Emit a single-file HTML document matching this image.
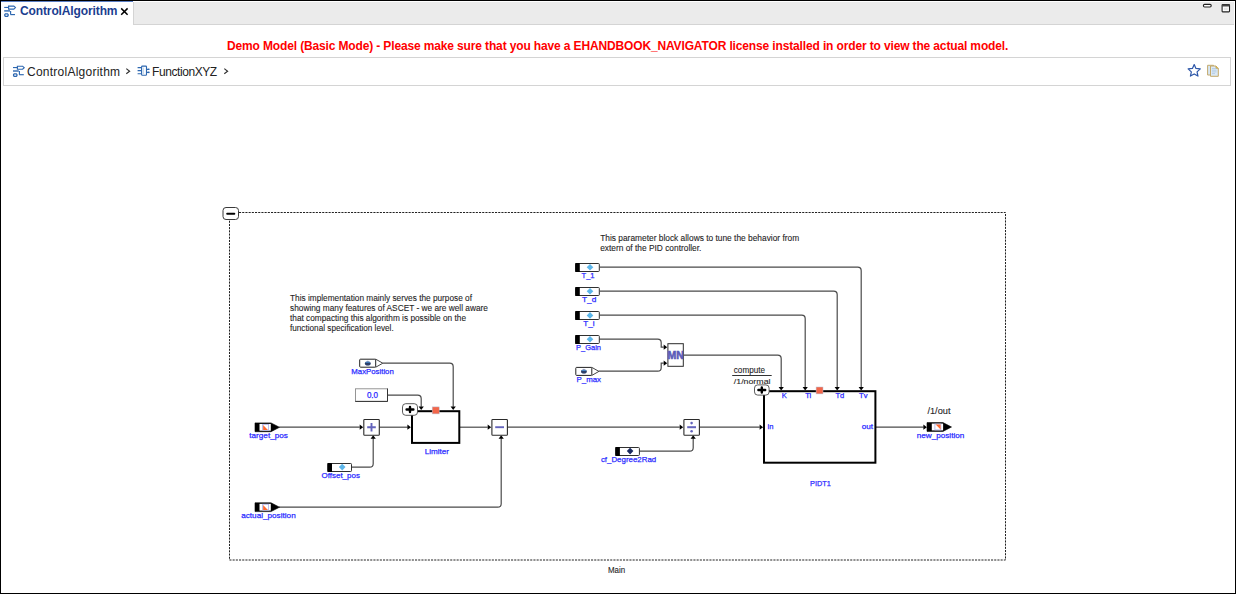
<!DOCTYPE html>
<html><head><meta charset="utf-8">
<style>
html,body{margin:0;padding:0;width:1236px;height:594px;overflow:hidden;background:#fff;font-family:"Liberation Sans",sans-serif;}
#frame{position:absolute;left:0;top:0;width:1234px;height:592px;border:1px solid #000;background:#fff;}
.abs{position:absolute;white-space:nowrap;}
#tabbar{position:absolute;left:133px;top:2px;width:1100px;height:22px;background:#ebebeb;border-left:1px solid #d4d4d4;border-bottom:1px solid #d4d4d4;}
#tabline{position:absolute;left:1px;top:1px;width:132px;height:1px;background:#5a7ec4;}
#tabtext{left:20px;top:2px;font-size:12px;font-weight:bold;color:#1b3d8f;line-height:18px;letter-spacing:-0.12px;}
#redtext{left:227px;top:38px;font-size:12px;font-weight:bold;color:#ff0000;line-height:16px;letter-spacing:-0.14px;}
#crumb{position:absolute;left:3px;top:57px;width:1226px;height:27px;border:1px solid #d4d4d4;background:#fff;}
.crumbtxt{font-size:12px;color:#222;line-height:16px;}
svg{position:absolute;left:0;top:0;}
svg text{font-family:"Liberation Sans",sans-serif;}
</style></head>
<body>
<div id="frame"></div>
<div id="tabbar"></div>
<div id="tabline"></div>
<div class="abs" id="tabtext">ControlAlgorithm</div>
<div class="abs" id="redtext">Demo Model (Basic Mode) - Please make sure that you have a EHANDBOOK_NAVIGATOR license installed in order to view the actual model.</div>
<div id="crumb"></div>
<div class="abs crumbtxt" style="left:27px;top:64px;letter-spacing:0.25px;">ControlAlgorithm</div>
<div class="abs crumbtxt" style="left:152px;top:64px;letter-spacing:-0.42px;">FunctionXYZ</div>
<svg width="1236" height="594" viewBox="0 0 1236 594">
<path d="M239,212.5 H1005.5 V560 H229.5 V220" fill="none" stroke="#222" stroke-width="1" stroke-dasharray="2.1 1.1"/>
<rect x="223" y="207.5" width="15.5" height="12" rx="3" ry="3" fill="#fff" stroke="#3a3a3a" stroke-width="1"/>
<path d="M227.2,213.7 H234.3" stroke="#000" stroke-width="2" stroke-linecap="round"/>
<text x="608" y="572.8" font-size="8.8" fill="#1e1e1e" stroke="#1e1e1e" stroke-width="0.1" textLength="17.2" lengthAdjust="spacingAndGlyphs">Main</text>
<text x="290" y="300.7" font-size="8.3" fill="#1e1e1e" stroke="#1e1e1e" stroke-width="0.1" textLength="182" lengthAdjust="spacingAndGlyphs">This implementation mainly serves the purpose of</text>
<text x="290" y="310.9" font-size="8.3" fill="#1e1e1e" stroke="#1e1e1e" stroke-width="0.1" textLength="198" lengthAdjust="spacingAndGlyphs">showing many features of ASCET - we are well aware</text>
<text x="290" y="321.09999999999997" font-size="8.3" fill="#1e1e1e" stroke="#1e1e1e" stroke-width="0.1" textLength="176" lengthAdjust="spacingAndGlyphs">that compacting this algorithm is possible on the</text>
<text x="290" y="331.3" font-size="8.3" fill="#1e1e1e" stroke="#1e1e1e" stroke-width="0.1" textLength="103.7" lengthAdjust="spacingAndGlyphs">functional specification level.</text>
<text x="600.2" y="240.5" font-size="8.3" fill="#1e1e1e" stroke="#1e1e1e" stroke-width="0.1" textLength="199" lengthAdjust="spacingAndGlyphs">This parameter block allows to tune the behavior from</text>
<text x="600.2" y="251.0" font-size="8.3" fill="#1e1e1e" stroke="#1e1e1e" stroke-width="0.1" textLength="101.2" lengthAdjust="spacingAndGlyphs">extern of the PID controller.</text>
<g transform="translate(-0.3,-0.3)">
<path d="M279.5,427.5 H360" fill="none" stroke="#4a4a4a" stroke-width="1.2"/>
<path d="M360.0,424.9 L363.5,427.5 L360.0,430.1 Z" fill="#000"/>
<path d="M351.6,467.5 H370.0 Q373.5,467.5 373.5,464.0 V438.5" fill="none" stroke="#4a4a4a" stroke-width="1.2"/>
<path d="M370.9,439.0 L373.5,435.5 L376.1,439.0 Z" fill="#000"/>
<path d="M379.5,427.5 H408" fill="none" stroke="#4a4a4a" stroke-width="1.2"/>
<path d="M407.7,424.9 L411.2,427.5 L407.7,430.1 Z" fill="#000"/>
<path d="M387.7,395.5 H418.0 Q421.5,395.5 421.5,399.0 V407" fill="none" stroke="#4a4a4a" stroke-width="1.2"/>
<path d="M418.9,406.7 L421.5,410.2 L424.1,406.7 Z" fill="#000"/>
<path d="M383,363.5 H450.0 Q453.5,363.5 453.5,367.0 V407" fill="none" stroke="#4a4a4a" stroke-width="1.2"/>
<path d="M450.9,406.7 L453.5,410.2 L456.1,406.7 Z" fill="#000"/>
<path d="M460,427.5 H488" fill="none" stroke="#4a4a4a" stroke-width="1.2"/>
<path d="M488.0,424.9 L491.5,427.5 L488.0,430.1 Z" fill="#000"/>
<path d="M279.2,507.5 H498.0 Q501.5,507.5 501.5,504.0 V438.5" fill="none" stroke="#4a4a4a" stroke-width="1.2"/>
<path d="M498.9,439.0 L501.5,435.5 L504.1,439.0 Z" fill="#000"/>
<path d="M507.5,427.5 H680" fill="none" stroke="#4a4a4a" stroke-width="1.2"/>
<path d="M680.0,424.9 L683.5,427.5 L680.0,430.1 Z" fill="#000"/>
<path d="M639.5,451.5 H690.0 Q693.5,451.5 693.5,448.0 V438.5" fill="none" stroke="#4a4a4a" stroke-width="1.2"/>
<path d="M690.9,439.0 L693.5,435.5 L696.1,439.0 Z" fill="#000"/>
<path d="M699.8,427.5 H760" fill="none" stroke="#4a4a4a" stroke-width="1.2"/>
<path d="M759.9,424.9 L763.4,427.5 L759.9,430.1 Z" fill="#000"/>
<path d="M876,427.5 H924" fill="none" stroke="#4a4a4a" stroke-width="1.2"/>
<path d="M923.7,424.9 L927.2,427.5 L923.7,430.1 Z" fill="#000"/>
<path d="M600,267.5 H858.0 Q861.5,267.5 861.5,271.0 V387.5" fill="none" stroke="#4a4a4a" stroke-width="1.2"/>
<path d="M858.9,387.3 L861.5,390.8 L864.1,387.3 Z" fill="#000"/>
<path d="M600,291.5 H834.0 Q837.5,291.5 837.5,295.0 V387.5" fill="none" stroke="#4a4a4a" stroke-width="1.2"/>
<path d="M834.9,387.3 L837.5,390.8 L840.1,387.3 Z" fill="#000"/>
<path d="M600,315.5 H802.0 Q805.5,315.5 805.5,319.0 V387.5" fill="none" stroke="#4a4a4a" stroke-width="1.2"/>
<path d="M802.9,387.3 L805.5,390.8 L808.1,387.3 Z" fill="#000"/>
<path d="M599.5,339.5 H658.0 Q661.5,339.5 661.5,343.0 V347.5 H664" fill="none" stroke="#4a4a4a" stroke-width="1.2"/>
<path d="M664.0,344.9 L667.5,347.5 L664.0,350.1 Z" fill="#000"/>
<path d="M599,371.5 H658.0 Q661.5,371.5 661.5,368.0 V363.5 H664" fill="none" stroke="#4a4a4a" stroke-width="1.2"/>
<path d="M664.0,360.9 L667.5,363.5 L664.0,366.1 Z" fill="#000"/>
<path d="M683.7,355.5 H778.0 Q781.5,355.5 781.5,359.0 V387.5" fill="none" stroke="#4a4a4a" stroke-width="1.2"/>
<path d="M778.9,387.3 L781.5,390.8 L784.1,387.3 Z" fill="#000"/>
</g>
<path d="M255,422.90000000000003 H271 L279.5,427.3 L271,431.7 H255 Z" fill="#000" stroke="#000" stroke-width="0.6" stroke-linejoin="round"/>
<rect x="259.5" y="423.90000000000003" width="11.3" height="6.7999999999999545" fill="#fff"/>
<rect x="262.6" y="424.40000000000003" width="6" height="5.7999999999999545" fill="#fff" stroke="#aab0e6" stroke-width="0.8"/>
<path d="M263.1,425.1 L263.1,430.09999999999997 L267.90000000000003,430.09999999999997 Z" fill="#ff6a33"/>
<path d="M255,502.8 H271 L279.5,507.2 L271,511.59999999999997 H255 Z" fill="#000" stroke="#000" stroke-width="0.6" stroke-linejoin="round"/>
<rect x="259.5" y="503.8" width="11.3" height="6.7999999999999545" fill="#fff"/>
<rect x="262.6" y="504.3" width="6" height="5.7999999999999545" fill="#fff" stroke="#aab0e6" stroke-width="0.8"/>
<path d="M263.1,505.0 L263.1,509.99999999999994 L267.90000000000003,509.99999999999994 Z" fill="#ff6a33"/>
<path d="M927,422.6 H943 L951.5,427.0 L943,431.4 H927 Z" fill="#000" stroke="#000" stroke-width="0.6" stroke-linejoin="round"/>
<rect x="931.8" y="423.6" width="11.3" height="6.7999999999999545" fill="#fff"/>
<rect x="934.9" y="424.1" width="6" height="5.7999999999999545" fill="#fff" stroke="#aab0e6" stroke-width="0.8"/>
<path d="M935.6,424.6 L940.6,424.6 L940.6,429.59999999999997 Z" fill="#ff6a33"/>
<rect x="327.9" y="463.5" width="23.6" height="8" rx="0.8" fill="#fff" stroke="#303030" stroke-width="1"/>
<rect x="327.4" y="463" width="4.6" height="9" rx="0.6" fill="#000"/>
<path d="M338.9,467.1 L342.2,463.8 L345.5,467.1 L342.2,470.40000000000003 Z" fill="#5cb6ea"/>
<rect x="615.8" y="447.5" width="23.6" height="8" rx="0.8" fill="#fff" stroke="#303030" stroke-width="1"/>
<rect x="615.3" y="447" width="4.6" height="9" rx="0.6" fill="#000"/>
<path d="M626.8,451.1 L630.0999999999999,447.8 L633.3999999999999,451.1 L630.0999999999999,454.40000000000003 Z" fill="#1b2a60"/>
<rect x="575.7" y="263.5" width="23.6" height="8" rx="0.8" fill="#fff" stroke="#303030" stroke-width="1"/>
<rect x="575.2" y="263" width="4.6" height="9" rx="0.6" fill="#000"/>
<path d="M586.7,267.3 L590.0,264.0 L593.3,267.3 L590.0,270.6 Z" fill="#5cb6ea"/>
<rect x="575.7" y="287.5" width="23.6" height="8" rx="0.8" fill="#fff" stroke="#303030" stroke-width="1"/>
<rect x="575.2" y="287" width="4.6" height="9" rx="0.6" fill="#000"/>
<path d="M586.7,291.3 L590.0,288.0 L593.3,291.3 L590.0,294.6 Z" fill="#5cb6ea"/>
<rect x="575.7" y="311.5" width="23.6" height="8" rx="0.8" fill="#fff" stroke="#303030" stroke-width="1"/>
<rect x="575.2" y="311" width="4.6" height="9" rx="0.6" fill="#000"/>
<path d="M586.7,315.4 L590.0,312.09999999999997 L593.3,315.4 L590.0,318.7 Z" fill="#5cb6ea"/>
<rect x="575.7" y="335.5" width="23.6" height="8" rx="0.8" fill="#fff" stroke="#303030" stroke-width="1"/>
<rect x="575.2" y="335" width="4.6" height="9" rx="0.6" fill="#000"/>
<path d="M586.7,339.3 L590.0,336.0 L593.3,339.3 L590.0,342.6 Z" fill="#5cb6ea"/>
<path d="M375.59999999999997,359.09999999999997 L382.8,363.2 L375.59999999999997,367.3" fill="#fff" stroke="#303030" stroke-width="0.9" stroke-linejoin="round"/>
<rect x="359.7" y="359.2" width="16" height="8.000000000000046" rx="0.8" fill="#fff" stroke="#222" stroke-width="1"/>
<path d="M364.6,363.2 L367.8,360.0 L371.0,363.2 L367.8,366.4 Z" fill="#b9c6f0" opacity="0.6"/>
<ellipse cx="367.8" cy="363.4" rx="2.9" ry="2" fill="#2c3f6a"/>
<path d="M365.6,362.3 H370.0" stroke="#4a8fd0" stroke-width="0.9"/>
<path d="M591.6999999999999,367.29999999999995 L598.9,371.4 L591.6999999999999,375.5" fill="#fff" stroke="#303030" stroke-width="0.9" stroke-linejoin="round"/>
<rect x="575.8" y="367.4" width="16" height="8.000000000000046" rx="0.8" fill="#fff" stroke="#222" stroke-width="1"/>
<path d="M580.6999999999999,371.4 L583.9,368.2 L587.1,371.4 L583.9,374.59999999999997 Z" fill="#b9c6f0" opacity="0.6"/>
<ellipse cx="583.9" cy="371.59999999999997" rx="2.9" ry="2" fill="#2c3f6a"/>
<path d="M581.6999999999999,370.5 H586.1" stroke="#4a8fd0" stroke-width="0.9"/>
<rect x="355.5" y="388.8" width="32" height="12.6" fill="#fff" stroke="#8a8a8a" stroke-width="0.9"/>
<path d="M387.5,388.6 V401.4 H355.3" fill="none" stroke="#333" stroke-width="1"/>
<text x="372.5" y="397.8" font-size="8.4" fill="#2b2bff" stroke="#2b2bff" stroke-width="0.25" textLength="11.2" lengthAdjust="spacingAndGlyphs" text-anchor="middle">0.0</text>
<rect x="363.8" y="419.5" width="15.5" height="15.8" rx="0.8" fill="#fff" stroke="#2a2a2a" stroke-width="1.1"/>
<path d="M367.2,427.2 H375.8 M371.5,422.9 V431.5" stroke="#6464bc" stroke-width="1.9"/>
<rect x="491.9" y="419.5" width="15.5" height="15.8" rx="0.8" fill="#fff" stroke="#2a2a2a" stroke-width="1.1"/>
<path d="M495.2,427.2 H503.99999999999994" stroke="#6464bc" stroke-width="1.9"/>
<rect x="683.9" y="419.5" width="15.5" height="15.8" rx="0.8" fill="#fff" stroke="#2a2a2a" stroke-width="1.1"/>
<path d="M687.2,427.2 H696.0" stroke="#6464bc" stroke-width="2"/>
<circle cx="691.6" cy="423.09999999999997" r="1.3" fill="#6464bc"/><circle cx="691.6" cy="431.3" r="1.3" fill="#6464bc"/>
<rect x="667.9" y="343.7" width="15.4" height="22.6" fill="#fff" stroke="#2a2a2a" stroke-width="1"/>
<text x="675.6" y="358.8" font-size="11.2" fill="#5a5ab8" stroke="#5a5ab8" stroke-width="0.6" textLength="16.4" lengthAdjust="spacingAndGlyphs" text-anchor="middle" font-weight="bold">MN</text>
<rect x="412" y="411.2" width="47.3" height="31.7" fill="#fff" stroke="#000" stroke-width="2"/>
<rect x="402.5" y="403.7" width="15" height="11.6" rx="3.2" fill="#fff" stroke="#4a4a4a" stroke-width="0.9"/>
<path d="M406.6,409.5 H413.4 M410.0,406.9 V412.1" stroke="#000" stroke-width="2.4" stroke-linecap="round"/>
<rect x="432.2" y="406.9" width="7" height="7" fill="#f2664a" stroke="#b9c3d6" stroke-width="0.5"/>
<rect x="764" y="391.2" width="111.4" height="71.5" fill="#fff" stroke="#000" stroke-width="2"/>
<rect x="754.5" y="384.9" width="14.6" height="10.2" rx="3.2" fill="#fff" stroke="#4a4a4a" stroke-width="0.9"/>
<path d="M758.4,390.0 H765.1999999999999 M761.8,387.4 V392.6" stroke="#000" stroke-width="2.4" stroke-linecap="round"/>
<rect x="816.1" y="387" width="6.9" height="6.9" fill="#f2664a" stroke="#b9c3d6" stroke-width="0.5"/>
<text x="249.3" y="438" font-size="8" fill="#2b2bff" stroke="#2b2bff" stroke-width="0.25" textLength="38.6" lengthAdjust="spacingAndGlyphs">target_pos</text>
<text x="241.2" y="517.7" font-size="8" fill="#2b2bff" stroke="#2b2bff" stroke-width="0.25" textLength="54.5" lengthAdjust="spacingAndGlyphs">actual_position</text>
<text x="321.5" y="478" font-size="8" fill="#2b2bff" stroke="#2b2bff" stroke-width="0.25" textLength="38.4" lengthAdjust="spacingAndGlyphs">Offset_pos</text>
<text x="351.3" y="374" font-size="8" fill="#2b2bff" stroke="#2b2bff" stroke-width="0.25" textLength="42.5" lengthAdjust="spacingAndGlyphs">MaxPosition</text>
<text x="424.7" y="453.8" font-size="8" fill="#2b2bff" stroke="#2b2bff" stroke-width="0.25" textLength="24.3" lengthAdjust="spacingAndGlyphs">Limiter</text>
<text x="600.9" y="462" font-size="8" fill="#2b2bff" stroke="#2b2bff" stroke-width="0.25" textLength="55.3" lengthAdjust="spacingAndGlyphs">cf_Degree2Rad</text>
<text x="810.1" y="485.9" font-size="8" fill="#2b2bff" stroke="#2b2bff" stroke-width="0.25" textLength="20.8" lengthAdjust="spacingAndGlyphs">PIDT1</text>
<text x="916.8" y="437.6" font-size="8" fill="#2b2bff" stroke="#2b2bff" stroke-width="0.25" textLength="47.5" lengthAdjust="spacingAndGlyphs">new_position</text>
<text x="581.5" y="278" font-size="7.6" fill="#2b2bff" stroke="#2b2bff" stroke-width="0.25" textLength="13.1" lengthAdjust="spacingAndGlyphs">T_1</text>
<text x="582.1" y="302" font-size="7.6" fill="#2b2bff" stroke="#2b2bff" stroke-width="0.25" textLength="14.2" lengthAdjust="spacingAndGlyphs">T_d</text>
<text x="583.3" y="326" font-size="7.6" fill="#2b2bff" stroke="#2b2bff" stroke-width="0.25" textLength="11.3" lengthAdjust="spacingAndGlyphs">T_i</text>
<text x="576.1" y="349.9" font-size="8" fill="#2b2bff" stroke="#2b2bff" stroke-width="0.25" textLength="24.9" lengthAdjust="spacingAndGlyphs">P_Gain</text>
<text x="576.5" y="381.6" font-size="8" fill="#2b2bff" stroke="#2b2bff" stroke-width="0.25" textLength="24.5" lengthAdjust="spacingAndGlyphs">P_max</text>
<text x="781.8" y="397.9" font-size="7.6" fill="#2b2bff" stroke="#2b2bff" stroke-width="0.25">K</text>
<text x="805.2" y="397.6" font-size="7.6" fill="#2b2bff" stroke="#2b2bff" stroke-width="0.25">Ti</text>
<text x="835.4" y="397.6" font-size="7.6" fill="#2b2bff" stroke="#2b2bff" stroke-width="0.25">Td</text>
<text x="859.1" y="397.6" font-size="7.6" fill="#2b2bff" stroke="#2b2bff" stroke-width="0.25">Tv</text>
<text x="767.6" y="428.6" font-size="7.6" fill="#2b2bff" stroke="#2b2bff" stroke-width="0.25">in</text>
<text x="861.7" y="428.6" font-size="7.6" fill="#2b2bff" stroke="#2b2bff" stroke-width="0.25" textLength="11.4" lengthAdjust="spacingAndGlyphs">out</text>
<text x="733.8" y="373.0" font-size="8.2" fill="#1e1e1e" stroke="#1e1e1e" stroke-width="0.1" textLength="31.2" lengthAdjust="spacingAndGlyphs">compute</text>
<path d="M732.2,375.5 H771.7" stroke="#333" stroke-width="1"/>
<text x="733.8" y="383.6" font-size="8" fill="#1e1e1e" stroke="#1e1e1e" stroke-width="0.1" textLength="36.7" lengthAdjust="spacingAndGlyphs">/1/normal</text>
<text x="927.4" y="414.3" font-size="8.4" fill="#1e1e1e" stroke="#1e1e1e" stroke-width="0.1" textLength="23.1" lengthAdjust="spacingAndGlyphs">/1/out</text>
<g transform="translate(4,5)" fill="none" stroke="#2d67b0" stroke-width="1.15"><path d="M0.2,2.45 H4.2"/><path d="M4.6,1.1 H9.8 L11.4,2.6 L9.8,4.1 H4.6 Z" fill="#fff"/><path d="M0.2,5.9 H6" stroke-width="1.4"/><path d="M6.6,5.9 V9.6"/><path d="M6.4,9.6 H11"/><path d="M1.4,8.8 H3.5 L4.1,9.4 V10.7 L3.5,11.3 H1.4 L0.8,10.7 V9.4 Z" stroke-width="1.3" fill="#fff"/></g>
<g transform="translate(12.8,65.1)" fill="none" stroke="#2d67b0" stroke-width="1.15"><path d="M0.2,2.45 H4.2"/><path d="M4.6,1.1 H9.8 L11.4,2.6 L9.8,4.1 H4.6 Z" fill="#fff"/><path d="M0.2,5.9 H6" stroke-width="1.4"/><path d="M6.6,5.9 V9.6"/><path d="M6.4,9.6 H11"/><path d="M1.4,8.8 H3.5 L4.1,9.4 V10.7 L3.5,11.3 H1.4 L0.8,10.7 V9.4 Z" stroke-width="1.3" fill="#fff"/></g>
<g fill="none" stroke="#2d67b0" stroke-width="1.15"><rect x="141.6" y="66.1" width="4.9" height="9.2" rx="0.8" fill="#fff"/><path d="M143.5,67.5 V74" stroke="#c6d9ee" stroke-width="1.2"/><path d="M137.6,67.6 H141 M137.6,70.6 H141 M137.6,73.7 H141"/><path d="M147,69.3 H149 M147,72.4 H149"/></g>
<circle cx="148.9" cy="69.3" r="0.8" fill="#2d67b0"/><circle cx="148.9" cy="72.4" r="0.8" fill="#2d67b0"/>
<path d="M126.3,68.6 L129.6,71.2 L126.3,73.8 M224.3,68.6 L227.6,71.2 L224.3,73.8" fill="none" stroke="#333" stroke-width="1.2"/>
<path d="M121.2,8.4 L127.6,14.8 M127.6,8.4 L121.2,14.8" stroke="#000" stroke-width="1.5"/>
<rect x="1203.4" y="4.4" width="7.8" height="2.6" rx="1.2" fill="#fff" stroke="#222" stroke-width="1.1"/>
<rect x="1222.1" y="4.6" width="7.4" height="7.3" rx="0.6" fill="#fff" stroke="#222" stroke-width="1.1"/>
<rect x="1222" y="4.5" width="7.6" height="2" fill="#444"/>
<rect x="1223.8" y="7.6" width="4" height="2.6" fill="#e6e6e6"/>
<path d="M1194.20,64.50 L1195.96,68.47 L1200.29,68.92 L1197.05,71.83 L1197.96,76.08 L1194.20,73.90 L1190.44,76.08 L1191.35,71.83 L1188.11,68.92 L1192.44,68.47 Z" fill="#fff" stroke="#2c56a8" stroke-width="1.2" stroke-linejoin="round"/>
<path d="M1207.6,65.3 H1213.5 V75 H1207.6 Z" fill="#d6e6f4" stroke="#c4a96a" stroke-width="1"/>
<path d="M1210.5,66 H1216 L1218.3,68.3 V76.3 H1210.5 Z" fill="#dbe9f6" stroke="#c4a96a" stroke-width="1"/>
<path d="M1216,66 V68.3 H1218.3" fill="#e8c870" stroke="#c4a040" stroke-width="0.8"/>
<path d="M1212,68.5 H1216.5 M1212,70.2 H1216.5 M1212,71.9 H1216.5 M1212,73.6 H1215" stroke="#a9c3dc" stroke-width="0.7"/>
</svg>
</body></html>
